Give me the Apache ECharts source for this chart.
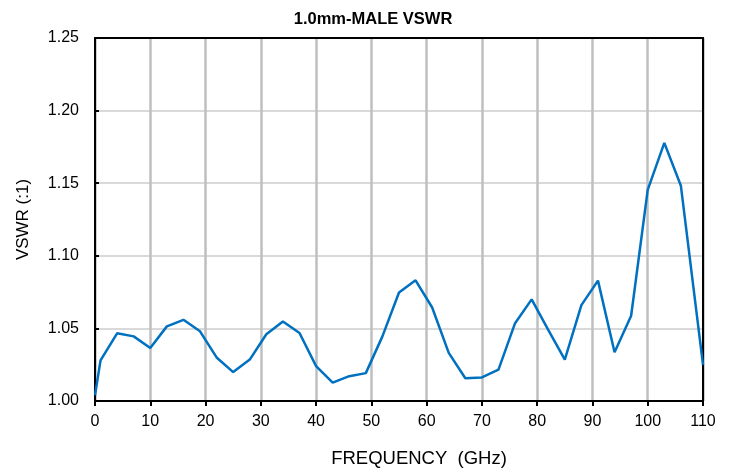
<!DOCTYPE html>
<html><head><meta charset="utf-8">
<script src="https://cdn.jsdelivr.net/npm/echarts@6/dist/echarts.min.js"></script>
<style>html,body{margin:0;padding:0;background:#fff}#c{width:735px;height:473px}</style>
</head><body><div id="c"></div>
<script>
const freqGHz = [0,1,4,7,10,13,16,19,22,25,28,31,34,37,40,43,46,49,52,55,58,61,64,67,70,73,76,79,82,85,88,91,94,97,100,103,106,110];
const vswr = [1.004,1.028,1.0466,1.0445,1.0365,1.0514,1.0559,1.048,1.030,1.0199,1.0285,1.046,1.0548,1.0468,1.024,1.0127,1.0171,1.0192,1.0445,1.0747,1.0831,1.0644,1.0331,1.0157,1.0162,1.0216,1.0536,1.070,1.049,1.0285,1.066,1.0829,1.0336,1.0587,1.1454,1.1778,1.1482,1.0249];
const titleText = '1.0mm-MALE VSWR';
const xName = 'FREQUENCY  (GHz)';
const yName = 'VSWR (:1)';

const chart = echarts.init(document.getElementById('c'));
const font = 'Liberation Sans, Arial, sans-serif';
const frameAxis = {show:true,axisLine:{show:true,onZero:false,lineStyle:{color:'#000',width:2}},axisTick:{show:false},axisLabel:{show:false},splitLine:{show:false}};
chart.setOption({
  animation:false,
  title:{text:titleText,left:368,top:6,textAlign:'center',textStyle:{fontFamily:font,fontSize:16.5,fontWeight:'bold',color:'#000'}},
  grid:{left:95,right:32,top:38,bottom:71,show:false},
  xAxis:[{type:'value',min:0,max:110,interval:10,
    name:xName,nameLocation:'middle',nameGap:48,nameTextStyle:{fontFamily:font,fontSize:18.5,color:'#000',padding:[0,0,0,40]},
    axisLine:{show:true,onZero:false,lineStyle:{color:'#000',width:2}},
    axisTick:{show:true,length:5,lineStyle:{color:'#000',width:2}},
    axisLabel:{fontFamily:font,fontSize:16,color:'#000',margin:13},
    splitLine:{show:true,lineStyle:{color:'#bfbfbf',width:2.5}}},
    Object.assign({type:'value',position:'top',min:0,max:110,interval:10},frameAxis)],
  yAxis:[{type:'value',min:1,max:1.25,interval:0.05,
    name:yName,nameLocation:'middle',nameGap:63,nameTextStyle:{fontFamily:font,fontSize:17,color:'#000'},
    axisLine:{show:true,onZero:false,lineStyle:{color:'#000',width:2}},
    axisTick:{show:true,inside:true,length:4,lineStyle:{color:'#000',width:2}},
    axisLabel:{fontFamily:font,fontSize:16,color:'#000',margin:16,formatter:v=>v.toFixed(2)},
    splitLine:{show:true,lineStyle:{color:'#d9d9d9',width:2}}},
    Object.assign({type:'value',position:'right',min:1,max:1.25,interval:0.05},frameAxis)],
  series:[{type:'line',data:freqGHz.map((f,i)=>[f,vswr[i]]),showSymbol:false,lineStyle:{color:'#0070c0',width:2.5},itemStyle:{color:'#0070c0'}}]
});
</script></body></html>
